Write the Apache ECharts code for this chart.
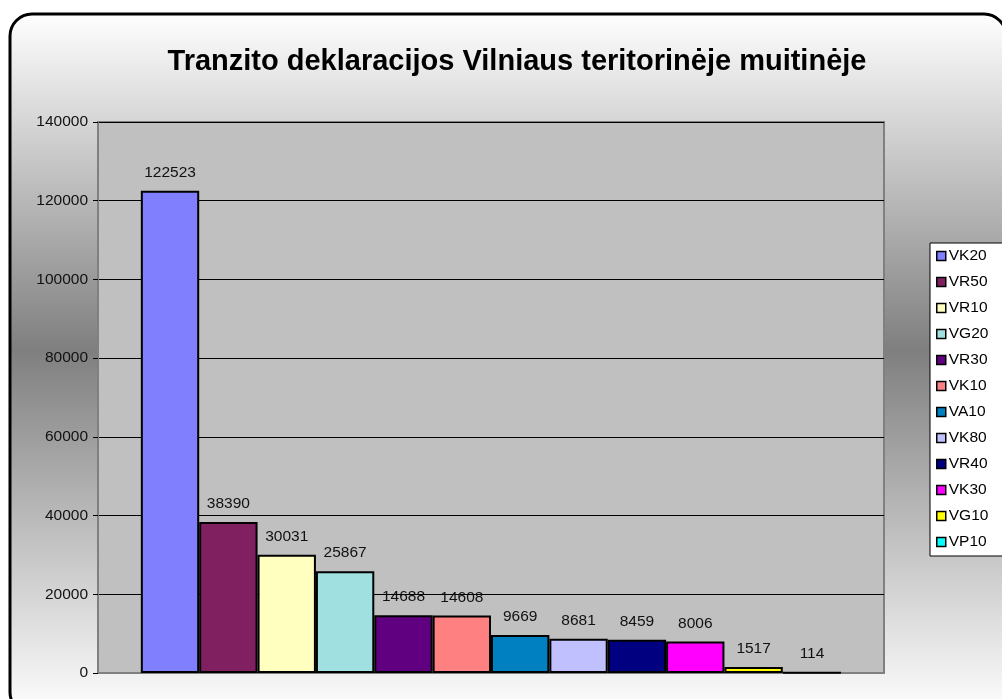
<!DOCTYPE html>
<html>
<head>
<meta charset="utf-8">
<script src="https://cdn.jsdelivr.net/npm/echarts@6/dist/echarts.min.js"></script>
<style>
  html, body { margin: 0; padding: 0; background: #fff; }
  #chart { width: 1002px; height: 699px; }
</style>
</head>
<body>
<div id="chart"></div>
<script>
const titleText = 'Tranzito deklaracijos Vilniaus teritorinėje muitinėje';
const seriesNames = ['VK20', 'VR50', 'VR10', 'VG20', 'VR30', 'VK10', 'VA10', 'VK80', 'VR40', 'VK30', 'VG10', 'VP10'];
const seriesValues = [122523, 38390, 30031, 25867, 14688, 14608, 9669, 8681, 8459, 8006, 1517, 114];
const seriesColors = ['#8080FF', '#802060', '#FFFFC0', '#A0E0E0', '#600080', '#FF8080', '#0080C0', '#C0C0FF', '#000080', '#FF00FF', '#FFFF00', '#00FFFF'];

let myChart = echarts.init(document.getElementById('chart'));

let series = seriesNames.map((name, i) => ({
    name: name,
    type: 'bar',
    data: [seriesValues[i]],
    barGap: '0%',
    barCategoryGap: '10.9%',
    itemStyle: {
        color: seriesColors[i],
        borderColor: '#000',
        borderWidth: 2
    },
    label: {
        show: true,
        position: 'top',
        distance: 10,
        color: '#111',
        fontFamily: 'Liberation Sans, Arial',
        fontSize: 15.5
    }
}));

let option = {
    animation: false,
    graphic: [
        {
            type: 'rect',
            z: -10,
            silent: true,
            shape: {x: 10, y: 14, width: 996, height: 700, r: 22},
            style: {
                fill: new echarts.graphic.LinearGradient(0, 0, 0, 1, [
                    {offset: 0, color: '#ffffff'},
                    {offset: 0.48, color: '#7f7f7f'},
                    {offset: 1, color: '#ffffff'}
                ]),
                stroke: '#000',
                lineWidth: 3
            }
        }
    ],
    title: {
        text: titleText,
        left: 512,
        textAlign: 'center',
        top: 42,
        textStyle: {
            fontFamily: 'Liberation Sans, Arial',
            fontSize: 29,
            fontWeight: 'bold',
            color: '#000'
        }
    },
    legend: {
        orient: 'vertical',
        left: 930,
        top: 243,
        itemWidth: 9,
        itemHeight: 9,
        itemGap: 10,
        padding: [5, 20, 6, 6],
        backgroundColor: '#fff',
        borderColor: '#000',
        borderWidth: 1,
        borderRadius: 0,
        icon: 'rect',
        itemStyle: {borderColor: '#000', borderWidth: 1.5},
        textStyle: {
            fontFamily: 'Liberation Sans, Arial',
            fontSize: 15.5,
            color: '#000',
            padding: [0, 0, 0, -2]
        },
        data: seriesNames
    },
    grid: {
        left: 98,
        right: 118,
        top: 122,
        bottom: 26,
        show: true,
        backgroundColor: '#C0C0C0',
        borderColor: '#808080',
        borderWidth: 2
    },
    xAxis: {
        type: 'category',
        data: [''],
        axisLine: {show: true, lineStyle: {color: '#808080', width: 2}},
        axisTick: {show: false},
        axisLabel: {show: false}
    },
    yAxis: {
        type: 'value',
        min: 0,
        max: 140000,
        interval: 20000,
        axisLine: {show: true, lineStyle: {color: '#808080', width: 2}},
        axisTick: {show: true, length: 5, lineStyle: {color: '#000'}},
        axisLabel: {
            margin: 10,
            formatter: (v) => String(v),
            fontFamily: 'Liberation Sans, Arial',
            fontSize: 15.5,
            color: '#111'
        },
        splitLine: {lineStyle: {color: '#000', width: 1}}
    },
    series: series
};
myChart.setOption(option);
</script>
</body>
</html>
